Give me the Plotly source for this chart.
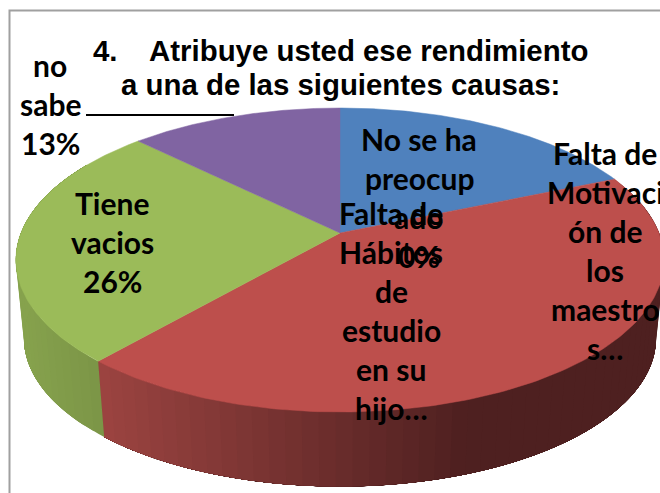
import numpy as np
import plotly.graph_objects as go

# ---- data ----
categories = ["No se ha preocupado", "Falta de Motivación de los maestros",
              "Falta de Hábitos de estudio en su hijo", "Tiene vacios", "no sabe"]
values = [18.6, 0, 42.8, 26, 12.6]
top_colors = ["#4F81BD", "#C0504D", "#BD4F4C", "#9BBB59", "#8064A2"]
title_lines = ["4.    Atribuye usted ese rendimiento", "a una de las siguientes causas:"]
label_lines = [
    ["No se ha", "preocup", "ado", "0%"],
    ["Falta de", "Motivaci", "ón de", "los", "maestro", "s…"],
    ["Falta de", "Hábitos", "de", "estudio", "en su", "hijo…"],
    ["Tiene", "vacios", "26%"],
    ["no", "sabe", "13%"],
]
# ---- layout ----
label_x = [419, 605, 391, 112, 50]
label_y0 = [139, 153, 213, 203, 65]
line_h = 39
cx, cy = 340.0, 233.0
k, A, B = 0.1776, 319.0, 147.2
depth_scale, depth = 0.975, 79.0


def top(theta):
    u, v = np.sin(theta), np.cos(theta)
    d = 1 + k * v
    return cx + A * u / d, cy - B * v / d


def bottom(theta):
    u, v = np.sin(theta), np.cos(theta)
    d = 1 + k * v
    return cx + depth_scale * A * u / d, cy + depth - depth_scale * B * v / d


def side_color(slice_i, x):
    if slice_i == 3:  # green
        s = 0.87 - 0.07 * np.clip((x - 20) / 80, 0, 1)
        return "rgb(%d,%d,%d)" % (0x9B * s, 0xBB * s, 0x59 * s)
    t = np.clip((x - 100) / 370, 0, 1)
    a, b = np.array([0x9C, 0x44, 0x41]), np.array([0x4E, 0x20, 0x20])
    return "rgb(%d,%d,%d)" % tuple(a + (b - a) * t)


fig = go.Figure()
fractions = np.cumsum([0] + values) / sum(values)
starts, ends = fractions[:-1] * 2 * np.pi, fractions[1:] * 2 * np.pi

# side wall: each strip runs on to the end of its slice and the next one paints
# over it, so the shading steps across the wall without seams.
for i in [2, 3]:
    lo, hi = max(starts[i], np.radians(60)), min(ends[i], np.radians(300))
    n = max(2, int((hi - lo) / np.radians(2.5)))
    edges = np.linspace(lo, hi, n + 1)
    for a in edges[:-1]:
        tt = np.linspace(a, hi, 60)
        x1, y1 = top(tt)
        x2, y2 = bottom(tt[::-1])
        seg = np.linspace(a, a + (hi - lo) / n, 3)
        col = side_color(i, float(top(seg)[0].mean()))
        fig.add_trace(go.Scatter(x=np.r_[x1, x2], y=np.r_[y1, y2], mode="lines",
                                 fill="toself", fillcolor=col,
                                 line=dict(color=col, width=0),
                                 hoverinfo="skip", showlegend=False))

# top face
for i in range(len(values)):
    if values[i] == 0:
        continue
    tt = np.linspace(starts[i], ends[i], 160)
    xs, ys = top(tt)
    fig.add_trace(go.Scatter(x=np.r_[cx, xs, cx], y=np.r_[cy, ys, cy], mode="lines",
                             fill="toself", fillcolor=top_colors[i],
                             line=dict(color=top_colors[i], width=0.5),
                             name=categories[i], hoverinfo="skip", showlegend=False))

# leader line for "no sabe"
fig.add_trace(go.Scatter(x=[86, 234], y=[115, 115], mode="lines",
                         line=dict(color="#000000", width=2),
                         hoverinfo="skip", showlegend=False))

annotations = []
for lines, lx, ly in zip(label_lines, label_x, label_y0):
    for j, s in enumerate(lines):
        annotations.append(dict(x=lx, y=ly + j * line_h, text=s, showarrow=False,
                                xanchor="center", yanchor="middle", xref="x", yref="y",
                                font=dict(family="Lato", size=30, color="#000000",
                                          weight="bold")))
for s, tx, ty in zip(title_lines, [340, 340], [50, 84]):
    annotations.append(dict(x=tx, y=ty, text="<b>%s</b>" % s, showarrow=False,
                            xanchor="center", yanchor="middle", xref="x", yref="y",
                            font=dict(family="Liberation Sans", size=29.4, color="#000000")))

fig.update_layout(
    width=660, height=493, autosize=False,
    margin=dict(l=0, r=0, t=0, b=0),
    paper_bgcolor="#FFFFFF", plot_bgcolor="#FFFFFF",
    showlegend=False,
    xaxis=dict(range=[0, 660], visible=False, fixedrange=True),
    yaxis=dict(range=[493, 0], visible=False, fixedrange=True),
    annotations=annotations,
    shapes=[dict(type="rect", xref="x", yref="y", x0=9.5, y0=10.5, x1=700, y1=520,
                 line=dict(color="#A0A0A0", width=2), layer="below")],
)
fig.write_html("out.html", config=dict(displayModeBar=False),
               post_script="document.body.style.margin='0';document.body.style.overflow='hidden';")
